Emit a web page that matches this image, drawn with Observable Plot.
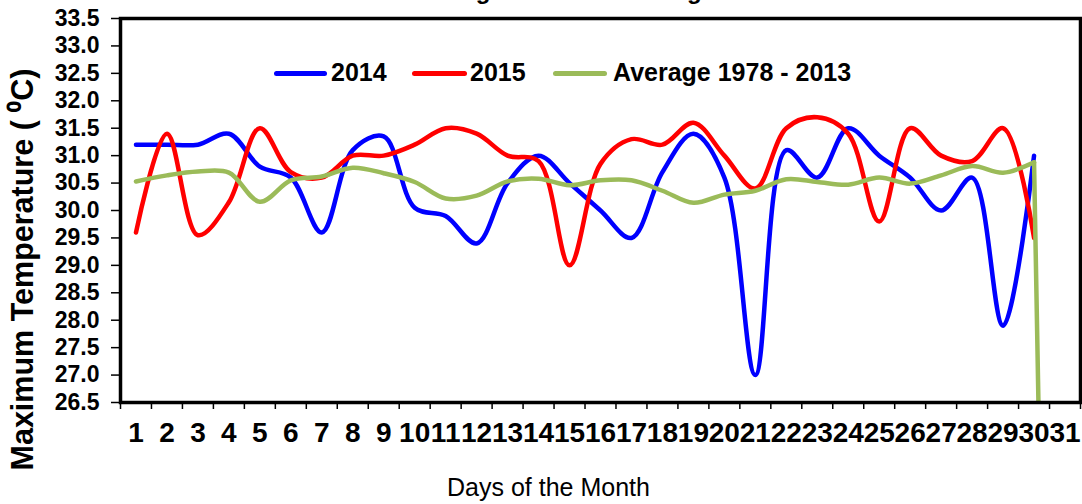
<!DOCTYPE html>
<html>
<head>
<meta charset="utf-8">
<script src="https://cdn.jsdelivr.net/npm/d3@7"></script>
<script src="https://cdn.jsdelivr.net/npm/@observablehq/plot@0.6"></script>
<style>
  html, body { margin: 0; padding: 0; background: white; }
  #wrap { position: relative; width: 1082px; height: 504px; overflow: hidden; font-family: "Liberation Sans", Arial, sans-serif; }
  #title { position: absolute; left: 410px; top: -21px; line-height: 24px; font-size: 24px; font-weight: bold; white-space: nowrap; }
  .sw { position: absolute; height: 5px; border-radius: 3px; top: 71px; }
  .lt { position: absolute; top: 60px; line-height: 25px; font-size: 25px; font-weight: bold; white-space: nowrap; }
</style>
</head>
<body>
<div id="wrap"></div>
<script>
const days = [1,2,3,4,5,6,7,8,9,10,11,12,13,14,15,16,17,18,19,20,21,22,23,24,25,26,27,28,29,30,31];
const t2014 = [31.2,31.2,31.2,31.4,30.8,30.6,29.6,31.1,31.35,30.05,29.9,29.4,30.5,31.0,30.5,30.0,29.5,30.7,31.4,30.6,27.0,31.1,30.6,31.5,31.0,30.6,30.0,30.6,27.9,31.0,null];
const t2015 = [29.6,31.4,29.55,30.15,31.5,30.7,30.6,31.0,31.0,31.2,31.5,31.4,31.0,30.9,29.0,30.85,31.3,31.2,31.6,31.0,30.4,31.5,31.7,31.4,29.8,31.5,31.0,30.9,31.5,29.5,null];
const avg7813 = [30.53,30.64,30.71,30.69,30.16,30.55,30.62,30.78,30.68,30.52,30.22,30.27,30.53,30.58,30.46,30.55,30.55,30.36,30.14,30.29,30.36,30.57,30.52,30.47,30.6,30.49,30.64,30.81,30.69,30.88,0];
const yTicks = [26.5,27.0,27.5,28.0,28.5,29.0,29.5,30.0,30.5,31.0,31.5,32.0,32.5,33.0,33.5];
const seriesNames = ["2014", "2015", "Average 1978 - 2013"];
const seriesColors = ["#0000FF", "#FF0000", "#9BBB59"];
const titleText = "Average Maximum in August";
const xTitle = "Days of the Month";
const yTitle = "Maximum Temperature ( \u2070C)";

const seriesData = [t2014, t2015, avg7813];
const tickBounds = days.map(d => d - 0.5).concat([days[days.length - 1] + 0.5]);

// split each series: smoothed part over valid non-zero readings, straight drop to a zero reading
function lineMarksFor(s, k) {
  const pts = s.map((v, i) => ({day: days[i], v})).filter(p => p.v != null);
  const smooth = pts.filter(p => p.v > 0);
  const marks = [Plot.line(smooth, {x: "day", y: "v", stroke: seriesColors[k], strokeWidth: 4.5, curve: "catmull-rom", clip: true})];
  const zi = pts.findIndex(p => p.v === 0);
  if (zi > 0) {
    marks.push(Plot.line([pts[zi - 1], pts[zi]], {x: "day", y: "v", stroke: seriesColors[k], strokeWidth: 4.5, clip: true}));
  }
  return marks;
}
const lineMarks = seriesData.flatMap((s, k) => lineMarksFor(s, k));

const chart = Plot.plot({
  width: 1082, height: 504,
  marginLeft: 120, marginRight: 2, marginTop: 18, marginBottom: 102,
  x: {type: "linear", domain: [tickBounds[0], tickBounds[tickBounds.length - 1]]},
  y: {domain: [yTicks[0], yTicks[yTicks.length - 1]]},
  style: {fontFamily: "'Liberation Sans', Arial, sans-serif", color: "black", background: "white"},
  marks: [
    ...lineMarks,
    Plot.frame({stroke: "black", strokeWidth: 3.5}),
    Plot.axisY({ticks: yTicks, tickSize: 9, tickPadding: 12, tickFormat: d => d.toFixed(1), fontSize: 23, fontWeight: "bold", label: null, strokeWidth: 1.5}),
    Plot.axisX({ticks: tickBounds, tickSize: 7, tickFormat: () => "", label: null, strokeWidth: 1.5}),
    Plot.axisX({ticks: days, tickSize: 0, tickPadding: 20, fontSize: 28, fontWeight: "bold", label: null}),
    Plot.text([yTitle], {frameAnchor: "left", textAnchor: "middle", rotate: -90, dx: -97, dy: 59, fontSize: 30.5, fontWeight: "bold"}),
    Plot.text([xTitle], {frameAnchor: "bottom", textAnchor: "middle", dx: -52, dy: 93, fontSize: 25})
  ]
});

const wrap = document.getElementById("wrap");
wrap.appendChild(chart);

const title = document.createElement("div");
title.id = "title";
title.textContent = titleText;
wrap.appendChild(title);

const swLeft = [274, 412, 553];
const swWidth = [53, 55, 54];
const txtLeft = [331, 470, 613];
seriesNames.forEach((name, k) => {
  const sw = document.createElement("div");
  sw.className = "sw";
  sw.style.left = swLeft[k] + "px";
  sw.style.width = swWidth[k] + "px";
  sw.style.background = seriesColors[k];
  wrap.appendChild(sw);
  const t = document.createElement("div");
  t.className = "lt";
  t.style.left = txtLeft[k] + "px";
  t.textContent = name;
  wrap.appendChild(t);
});
</script>
</body>
</html>
